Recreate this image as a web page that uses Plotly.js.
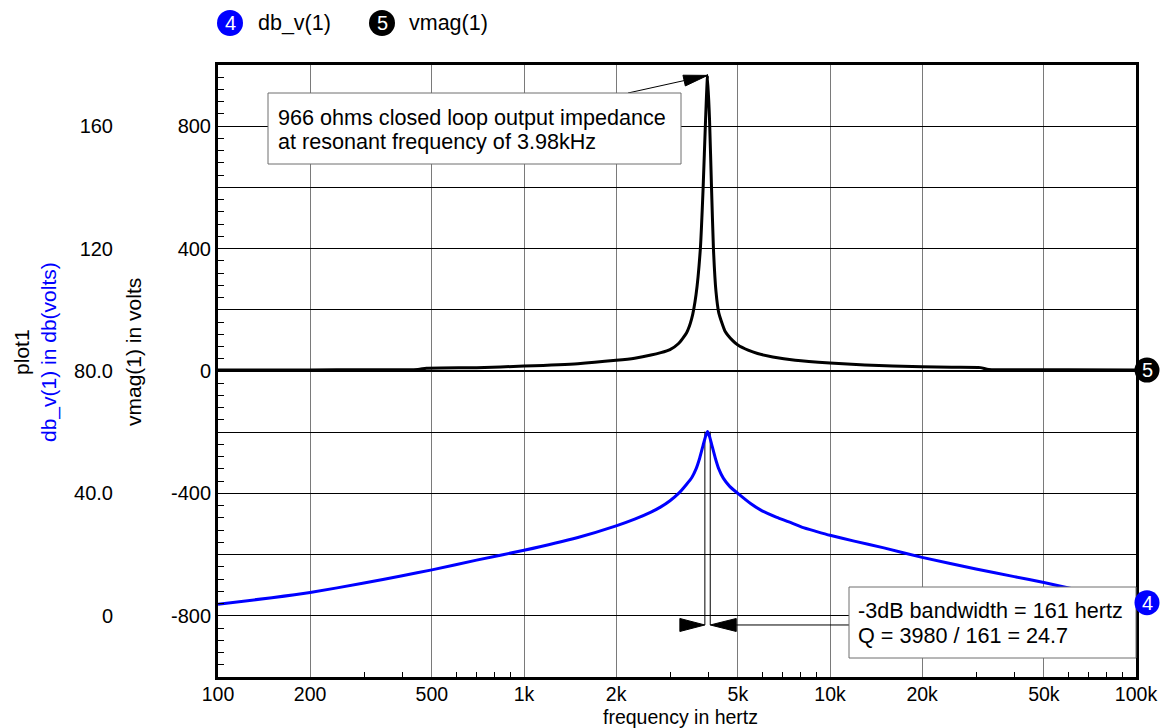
<!DOCTYPE html>
<html>
<head>
<meta charset="utf-8">
<script src="https://cdn.plot.ly/plotly-3.0.1.min.js"></script>
<style>
html,body{margin:0;padding:0;background:#fff;}
#chart{width:1164px;height:728px;}
</style>
</head>
<body>
<div id="chart"></div>
<script>
// ---------------- data ----------------
const dbFreq = [100,150,200,300,400,500,700,1000,1500,2000,2300,2600,2800,3000,3200,3400,3540,3650,3750,3850,3920,3980,4040,4110,4220,4330,4480,4700,5000,5500,6000,6700,7340,8080,9000,10000,12000,15000,20000,30000,40000,50000,70000,100000];
const dbVals = [3.8,5.9,7.6,10.7,13.1,15.0,18.2,21.4,25.6,29.4,31.6,33.9,35.6,37.6,40.0,43.0,45.3,48.0,51.5,55.8,58.6,60.2,58.6,55.8,51.5,48.0,45.0,42.3,40.0,36.7,34.3,32.2,30.7,29.0,27.6,26.3,24.4,22.2,19.1,15.3,12.8,10.9,7.6,4.3];

const vmagFreq = [100,200,300,450,480,700,1000,1500,2000,2300,2600,2800,3000,3200,3400,3530,3650,3770,3850,3920,3980,4040,4100,4160,4240,4330,4540,4800,5000,5400,5800,6500,7700,10000,13000,16000,25000,31000,33000,60000,100000];
const vmagVals = [3,3.5,4,5,9,11,16,24,35,42,52,60,70,90,125,170,250,400,600,820,966,820,600,400,260,190,130,100,85,68,57,46,35,26,20,16,12,11,5,4,3];

const xTickVals = [100,200,500,1000,2000,5000,10000,20000,50000,100000];
const xTickText = ['100','200','500','1k','2k','5k','10k','20k','50k','100k'];
const xMinorVals = [300,400,600,700,800,900,3000,4000,6000,7000,8000,9000,30000,40000,60000,70000,80000,90000];
const vmagTickVals = [-800,-600,-400,-200,0,200,400,600,800];
const vmagTickText = ['-800','','-400','','0','','400','','800'];
const dbTickVals = [0,40,80,120,160];
const dbTickText = ['0','40.0','80.0','120','160'];

const peakFreq = 3980, peakVmag = 966, peakDb = 60.2;
const bwEdges = [3900, 4061];
const bwMarkerDb = -3;

// ---------------- geometry (pixels) ----------------
const W = 1164, H = 728;
const PL = 218, PR = 1136, PT = 65, PB = 677;
const XR = [2, 5], YV = [-1000, 1000], YD = [-20, 180];
const px = x => x / W;
const py = y => 1 - y / H;
const fx = f => PL + (Math.log10(f) - XR[0]) / (XR[1] - XR[0]) * (PR - PL);
const fyV = v => PB - (v - YV[0]) / (YV[1] - YV[0]) * (PB - PT);
const fyD = d => PB - (d - YD[0]) / (YD[1] - YD[0]) * (PB - PT);

const FONT = 'Liberation Sans, Arial, sans-serif';
const BLUE = '#0000ff';

// ---------------- traces ----------------
const traces = [
  {x: dbFreq, y: dbVals, yaxis: 'y2', mode: 'lines', line: {color: BLUE, width: 3, shape: 'spline', smoothing: 0.5}, hoverinfo: 'skip', name: 'db_v(1)'},
  {x: vmagFreq, y: vmagVals, yaxis: 'y', mode: 'lines', line: {color: '#000', width: 3, shape: 'spline', smoothing: 0.5}, hoverinfo: 'skip', name: 'vmag(1)'}
];

// ---------------- shapes ----------------
const shapes = [];
function circle(cxRef, cx, cyRef, cy, r, color, dx) {
  shapes.push({type: 'circle', xref: cxRef, yref: cyRef, xsizemode: 'pixel', ysizemode: 'pixel',
    xanchor: cx, yanchor: cy, x0: dx - r, x1: dx + r, y0: -r, y1: r,
    fillcolor: color, line: {width: 0}, layer: 'above'});
}
function line(x0, y0, x1, y1, layer) {
  shapes.push({type: 'line', xref: 'paper', yref: 'paper', x0: px(x0), y0: py(y0), x1: px(x1), y1: py(y1),
    line: {color: '#000', width: 1}, layer: layer || 'above'});
}
function tri(p) {
  const d = 'M ' + p.map(q => px(q[0]) + ',' + py(q[1])).join(' L ') + ' Z';
  shapes.push({type: 'path', xref: 'paper', yref: 'paper', path: d, fillcolor: '#000', line: {color: '#000', width: 1}, layer: 'above'});
}
function box(x0, y0, x1, y1) {
  shapes.push({type: 'rect', xref: 'paper', yref: 'paper', x0: px(x0), y0: py(y0), x1: px(x1), y1: py(y1),
    fillcolor: '#fff', line: {color: '#6e6e6e', width: 1}, layer: 'above'});
}

// annotation box 1 + arrow to the peak
const B1 = [268, 93, 681, 164];
const tip = [fx(peakFreq), fyV(peakVmag)];
const tail = [628, B1[1]];
line(tail[0], tail[1], tip[0], tip[1]);
(function(){
  const dx = tip[0] - tail[0], dy = tip[1] - tail[1], L = Math.hypot(dx, dy);
  const ux = dx / L, uy = dy / L, nx = -uy, ny = ux, len = 24, hw = 5.5;
  const bx = tip[0] - ux * len, by = tip[1] - uy * len;
  tri([tip, [bx + nx * hw, by + ny * hw], [bx - nx * hw, by - ny * hw]]);
})();
box(B1[0], B1[1], B1[2], B1[3]);

// bandwidth markers
const xl = fx(bwEdges[0]), xh = fx(bwEdges[1]), yb = fyD(bwMarkerDb), yt = fyD(peakDb);
shapes.push({type: 'line', xref: 'paper', yref: 'paper', x0: px(xl), x1: px(xl), y0: py(yt), y1: py(yb), line: {color: '#000', width: 1}, layer: 'between'});
shapes.push({type: 'line', xref: 'paper', yref: 'paper', x0: px(xh), x1: px(xh), y0: py(yt), y1: py(yb), line: {color: '#000', width: 1}, layer: 'between'});
tri([[xl, yb], [xl - 25, yb - 6.5], [xl - 25, yb + 6.5]]);
tri([[xh, yb], [xh + 26, yb - 6.5], [xh + 26, yb + 6.5]]);
const B2 = [849, 587, 1136, 658];
line(xh + 26, yb, B2[0], yb);
box(B2[0], B2[1], B2[2], B2[3]);

// legend circles
circle('paper', px(230), 'paper', py(23), 13, BLUE, 0);
circle('paper', px(382), 'paper', py(23), 13, '#000', 0);
// series end markers
circle('paper', px(PR), 'y2', dbVals[dbVals.length - 1], 12.5, BLUE, 11);
circle('paper', px(PR), 'y', vmagVals[vmagVals.length - 1], 12.5, '#000', 11);

// ---------------- annotations ----------------
const ann = [];
function txt(text, x, y, opts) {
  ann.push(Object.assign({text: text, xref: 'paper', yref: 'paper', x: px(x), y: py(y), showarrow: false,
    xanchor: 'left', yanchor: 'middle', font: {family: FONT, size: 20, color: '#000'}}, opts || {}));
}
const boxFont = {family: FONT, size: 21.6, color: '#000'};
txt('966 ohms closed loop output impedance', 276, 118, {font: boxFont});
txt('at resonant frequency of 3.98kHz', 276, 142, {font: boxFont});
txt('-3dB bandwidth = 161 hertz', 856, 610, {font: boxFont});
txt('Q = 3980 / 161 = 24.7', 856, 635, {font: boxFont});
// legend text
const legFont = {family: FONT, size: 21.5, color: '#000'};
txt('db_v(1)', 256, 23, {font: legFont});
txt('vmag(1)', 407, 23, {font: legFont});
txt('4', 230, 23, {xanchor: 'center', font: {family: FONT, size: 20, color: '#fff'}});
txt('5', 382, 23, {xanchor: 'center', font: {family: FONT, size: 20, color: '#fff'}});
// end markers numbers
ann.push({text: '4', xref: 'paper', yref: 'y2', x: px(PR + 11), y: dbVals[dbVals.length - 1], showarrow: false, xanchor: 'center', yanchor: 'middle', font: {family: FONT, size: 20, color: '#fff'}});
ann.push({text: '5', xref: 'paper', yref: 'y', x: px(PR + 11), y: vmagVals[vmagVals.length - 1], showarrow: false, xanchor: 'center', yanchor: 'middle', font: {family: FONT, size: 20, color: '#fff'}});
// axis titles
const titleFont = {family: FONT, size: 21, color: '#000'};
txt('vmag(1) in volts', 133, 352, {xanchor: 'center', textangle: -90, font: titleFont});
txt("plot1<br><span style='color:#0000ff'>db_v(1) in db(volts)</span>", 35, 352, {xanchor: 'center', textangle: -90, font: titleFont});
txt('frequency in hertz', 680, 716.5, {xanchor: 'center', font: {family: FONT, size: 19.5, color: '#000'}});

// ---------------- layout ----------------
const layout = {
  width: W, height: H,
  margin: {l: 0, r: 0, t: 0, b: 0},
  paper_bgcolor: '#fff', plot_bgcolor: '#fff',
  showlegend: false,
  font: {family: FONT, size: 20, color: '#000'},
  xaxis: {
    type: 'log', domain: [px(PL), px(PR)], range: XR, anchor: 'y',
    tickmode: 'array', tickvals: xTickVals, ticktext: xTickText, ticks: '', ticklen: 0,
    tickfont: {family: FONT, size: 19.5, color: '#000'}, ticklabelstandoff: -2,
    showgrid: true, gridcolor: '#7a7a7a', gridwidth: 1,
    showline: true, linecolor: '#000', linewidth: 3, mirror: true, zeroline: false,
    minor: {tickmode: 'array', tickvals: xMinorVals, ticks: 'inside', ticklen: 5, tickcolor: '#000', tickwidth: 1, showgrid: false}
  },
  yaxis: {
    domain: [py(PB), py(PT)], range: YV, anchor: 'x',
    tickmode: 'array', tickvals: vmagTickVals, ticktext: vmagTickText,
    ticks: 'inside', ticklen: 6, tickcolor: '#000', tickwidth: 1,
    tickfont: {family: FONT, size: 20, color: '#000'}, ticklabelstandoff: 0,
    showgrid: true, gridcolor: '#000', gridwidth: 1,
    zeroline: true, zerolinecolor: '#000', zerolinewidth: 2,
    showline: true, linecolor: '#000', linewidth: 3, mirror: true,
    minor: {dtick: 40, tick0: 0, ticks: 'inside', ticklen: 6, tickcolor: '#000', tickwidth: 1, showgrid: false}
  },
  yaxis2: {
    overlaying: 'y', anchor: 'free', position: px(113), side: 'left', range: YD,
    tickmode: 'array', tickvals: dbTickVals, ticktext: dbTickText, ticks: '',
    tickfont: {family: FONT, size: 20, color: '#000'},
    showgrid: false, zeroline: false, showline: false
  },
  shapes: shapes,
  annotations: ann
};

Plotly.newPlot('chart', traces, layout, {staticPlot: true, displayModeBar: false});
</script>
</body>
</html>
